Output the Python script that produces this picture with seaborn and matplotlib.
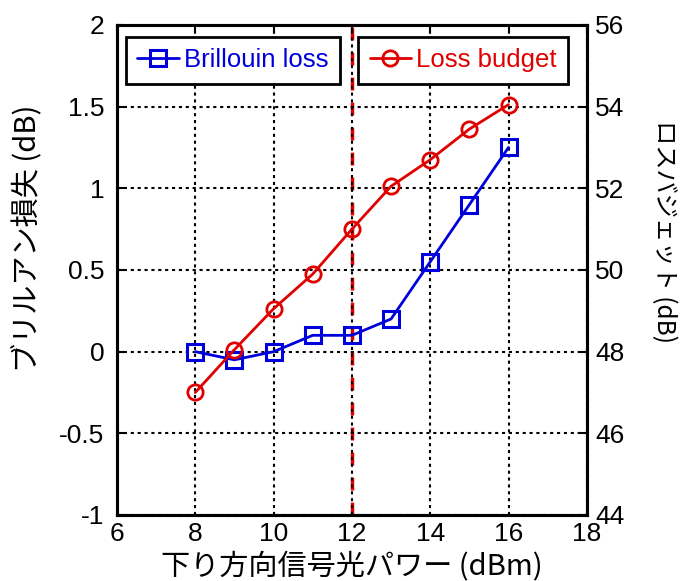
import matplotlib
matplotlib.use("Agg")
import matplotlib.pyplot as plt
import seaborn as sns
import pandas as pd

# Downstream signal power (dBm)
power = [8, 9, 10, 11, 12, 13, 14, 15, 16]
# Brillouin loss (dB), left axis
brillouin_loss = [0.0, -0.05, 0.0, 0.1, 0.1, 0.2, 0.55, 0.9, 1.25]
# Loss budget (dB), right axis
loss_budget = [47.0, 48.05, 49.05, 49.9, 51.0, 52.05, 52.7, 53.45, 54.05]

x_ticks = [6, 8, 10, 12, 14, 16, 18]
left_ticks = [-1, -0.5, 0, 0.5, 1, 1.5, 2]
left_ticklabels = ["-1", "-0.5", "0", "0.5", "1", "1.5", "2"]
right_ticks = [44, 46, 48, 50, 52, 54, 56]

sns.set_style("white")
plt.rcParams["font.family"] = ["Liberation Sans", "Noto Sans CJK JP", "DejaVu Sans"]
plt.rcParams["font.size"] = 19
plt.rcParams["text.color"] = "black"
plt.rcParams["axes.labelcolor"] = "black"
plt.rcParams["xtick.color"] = "black"
plt.rcParams["ytick.color"] = "black"

df = pd.DataFrame({"power": power, "brillouin": brillouin_loss, "budget": loss_budget})

blue = "#0000DD"
red = "#E00000"
cjk = ["Noto Sans CJK JP", "Liberation Sans"]

fig = plt.figure(figsize=(6.92, 5.81), dpi=100)
ax = fig.add_axes([0.169, 0.1136, 0.679, 0.8434])
ax2 = ax.twinx()

# threshold marker at 12 dBm
ax.axvline(12, color=red, ls=(0, (3.7, 3.5)), lw=2.5, zorder=1)

sns.lineplot(data=df, x="power", y="brillouin", ax=ax, color=blue, lw=2,
             marker="s", markersize=12, markerfacecolor="none",
             markeredgecolor=blue, markeredgewidth=2.2, label="Brillouin loss",
             zorder=4)
sns.lineplot(data=df, x="power", y="budget", ax=ax2, color=red, lw=2,
             marker="o", markersize=11, markerfacecolor="none",
             markeredgecolor=red, markeredgewidth=2, label="Loss budget",
             zorder=3)

ax.set_xlim(6, 18)
ax.set_ylim(-1, 2)
ax2.set_ylim(44, 56)
ax.set_xticks(x_ticks)
ax.set_yticks(left_ticks)
ax.set_yticklabels(left_ticklabels)
ax2.set_yticks(right_ticks)

ax.grid(True, color="black", ls=(0, (1.5, 1.8)), lw=1.5)
ax.set_axisbelow(False)

ax.tick_params(axis="x", direction="in", length=6, width=1.5, labelsize=19,
               top=True, pad=5)
ax.tick_params(axis="y", direction="in", length=6, width=1.5, labelsize=19,
               right=False, pad=9)
ax2.tick_params(axis="y", direction="in", length=6, width=1.5, labelsize=19, pad=6)

for a in (ax, ax2):
    for s in a.spines.values():
        s.set_linewidth(2.2)
        s.set_color("black")

ax.set_xlabel("下り方向信号光パワー (dBm)", fontsize=21, family=cjk, labelpad=4)
ax.set_ylabel("ブリルアン損失 (dB)", fontsize=21, family=cjk)
ax.yaxis.set_label_coords(-0.158, 0.565)
ax2.set_ylabel("ロスバジェット (dB)", fontsize=17.5, family=cjk, rotation=270,
               va="bottom")
ax2.yaxis.set_label_coords(1.136, 0.578)

leg_kw = dict(frameon=True, fancybox=False, edgecolor="black", framealpha=1,
              handlelength=1.6, handletextpad=0.2, borderpad=0.45,
              borderaxespad=0.0, fontsize=18.5, labelcolor="linecolor")
leg1 = ax.legend(loc="upper left", bbox_to_anchor=(0.019, 0.976), **leg_kw)
leg1.get_frame().set_linewidth(2)
leg1.set_zorder(10)
leg2 = ax2.legend(loc="upper right", bbox_to_anchor=(0.96, 0.976), **leg_kw)
leg2.get_frame().set_linewidth(2)

fig.savefig("out.png", dpi=100)
